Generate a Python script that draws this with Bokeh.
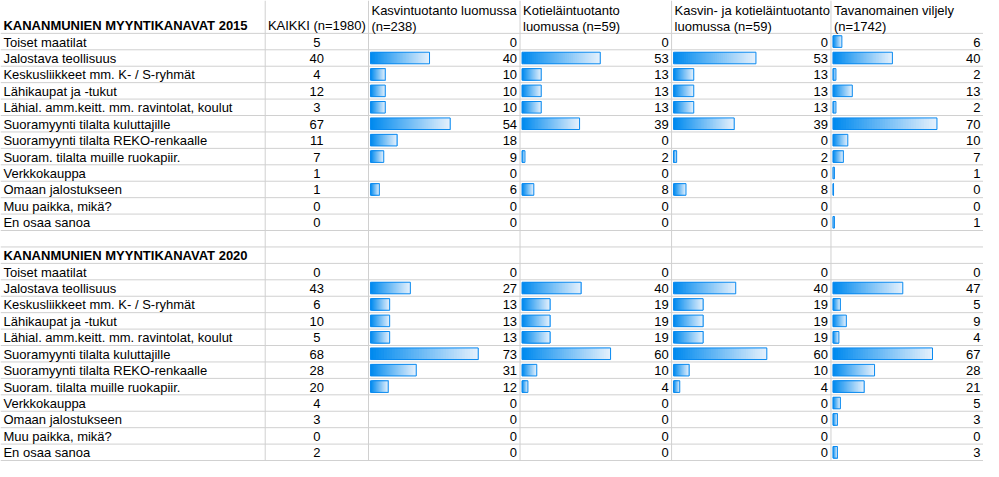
from bokeh.plotting import figure
from bokeh.models import ColumnDataSource, Range1d
from bokeh.core.properties import value
from bokeh.embed import file_html
from bokeh.resources import INLINE

# ---------------- data ----------------
categories = [
    "Toiset maatilat",
    "Jalostava teollisuus",
    "Keskusliikkeet mm. K- / S-ryhmät",
    "Lähikaupat ja -tukut",
    "Lähial. amm.keitt. mm. ravintolat, koulut",
    "Suoramyynti tilalta kuluttajille",
    "Suoramyynti tilalta REKO-renkaalle",
    "Suoram. tilalta muille ruokapiir.",
    "Verkkokauppa",
    "Omaan jalostukseen",
    "Muu paikka, mikä?",
    "En osaa sanoa",
]
title_2015 = "KANANMUNIEN MYYNTIKANAVAT 2015"
title_2020 = "KANANMUNIEN MYYNTIKANAVAT 2020"
column_headers = [
    ["KAIKKI (n=1980)"],
    ["Kasvintuotanto luomussa", "(n=238)"],
    ["Kotieläintuotanto", "luomussa (n=59)"],
    ["Kasvin- ja kotieläintuotanto", "luomussa (n=59)"],
    ["Tavanomainen viljely", "(n=1742)"],
]

kaikki_2015 = [5, 40, 4, 12, 3, 67, 11, 7, 1, 1, 0, 0]
kasvin_2015 = [0, 40, 10, 10, 10, 54, 18, 9, 0, 6, 0, 0]
kotiel_2015 = [0, 53, 13, 13, 13, 39, 0, 2, 0, 8, 0, 0]
kasvinkotiel_2015 = [0, 53, 13, 13, 13, 39, 0, 2, 0, 8, 0, 0]
tavanom_2015 = [6, 40, 2, 13, 2, 70, 10, 7, 1, 0.4, 0, 1]

kaikki_2020 = [0, 43, 6, 10, 5, 68, 28, 20, 4, 3, 0, 2]
kasvin_2020 = [0, 27, 13, 13, 13, 73, 31, 12, 0, 0, 0, 0]
kotiel_2020 = [0, 40, 19, 19, 19, 60, 10, 4, 0, 0, 0, 0]
kasvinkotiel_2020 = [0, 40, 19, 19, 19, 60, 10, 4, 0, 0, 0, 0]
tavanom_2020 = [0, 47, 5, 9, 4, 67, 28, 21, 5, 3, 0, 3]

# ---------------- layout ----------------
W, H = 999, 477
COL_EDGES = [0, 269, 374, 528, 682, 844, 999]
HEADER_H = 34
ROW_H = 17
FONT = value("Liberation Sans")
FS = "13px"
GRID = "#d0d0d0"
BAR_C0 = (0, 138, 239)
BAR_C1 = (228, 240, 252)
N_SLICES = 40

p = figure(width=983, height=461, output_backend="svg", toolbar_location=None,
           x_range=Range1d(0, W), y_range=Range1d(H, 0),
           min_border=0, outline_line_color=None)
p.axis.visible = False
p.grid.visible = False
p.background_fill_color = "white"
p.border_fill_color = "white"

n = len(categories)
sec1_top = HEADER_H
blank_top = sec1_top + n * ROW_H
sec2_head_top = blank_top + ROW_H
sec2_top = sec2_head_top + ROW_H

# grid lines
hy = [sec1_top + k * ROW_H for k in range(2 * n + 3)]
p.segment(x0=[0] * len(hy), x1=[W] * len(hy), y0=hy, y1=hy, line_color=GRID, line_width=1)
vx = COL_EDGES[1:-1]
p.segment(x0=vx, x1=vx, y0=[0] * len(vx), y1=[H] * len(vx), line_color=GRID, line_width=1)

def hexc(t):
    return "#%02x%02x%02x" % tuple(int(round(c)) for c in t)

slice_colors = [hexc(tuple(BAR_C0[i] + (BAR_C1[i] - BAR_C0[i]) * k / (N_SLICES - 1) for i in range(3)))
                for k in range(N_SLICES)]

sl = dict(left=[], right=[], top=[], bottom=[], color=[])
br = dict(left=[], right=[], top=[], bottom=[])
tx = dict(x=[], y=[], text=[])
tr = dict(x=[], y=[], text=[])
tc = dict(x=[], y=[], text=[])

def add_section(top, series):
    for r, cat in enumerate(categories):
        rt = top + r * ROW_H
        tx["x"].append(3); tx["y"].append(rt + ROW_H / 2 + 0.5); tx["text"].append(cat)
    for ci, vals in enumerate(series):
        c_l, c_r = COL_EDGES[ci + 1], COL_EDGES[ci + 2]
        for r, v in enumerate(vals):
            rt = top + r * ROW_H
            yc = rt + ROW_H / 2 + 0.5
            if ci == 0:
                tc["x"].append((c_l + c_r) / 2); tc["y"].append(yc); tc["text"].append(str(int(round(v))))
                continue
            tr["x"].append(c_r - 3); tr["y"].append(yc); tr["text"].append(str(int(round(v))))
            if v > 0:
                scale = (c_r - c_l - 4) / 100.0
                x0 = c_l + 2
                L = v * scale
                for k in range(N_SLICES):
                    # each slice runs to the bar end; later (lighter) slices cover earlier ones
                    sl["left"].append(x0 + L * k / N_SLICES)
                    sl["right"].append(x0 + L)
                    sl["top"].append(rt + 2.5)
                    sl["bottom"].append(rt + 14.5)
                    sl["color"].append(slice_colors[k])
                br["left"].append(x0); br["right"].append(x0 + L)
                br["top"].append(rt + 2.5); br["bottom"].append(rt + 14.5)

add_section(sec1_top, [kaikki_2015, kasvin_2015, kotiel_2015, kasvinkotiel_2015, tavanom_2015])
add_section(sec2_top, [kaikki_2020, kasvin_2020, kotiel_2020, kasvinkotiel_2020, tavanom_2020])

p.quad(left="left", right="right", top="top", bottom="bottom", fill_color="color",
       line_color=None, source=ColumnDataSource(sl))
p.quad(left="left", right="right", top="top", bottom="bottom", fill_color=None,
       line_color="#0a8af0", line_width=1, source=ColumnDataSource(br))

p.text(x="x", y="y", text="text", source=ColumnDataSource(tx), text_font=FONT,
       text_font_size=FS, text_color="black", text_align="left", text_baseline="middle")
p.text(x="x", y="y", text="text", source=ColumnDataSource(tr), text_font=FONT,
       text_font_size=FS, text_color="black", text_align="right", text_baseline="middle")
p.text(x="x", y="y", text="text", source=ColumnDataSource(tc), text_font=FONT,
       text_font_size=FS, text_color="black", text_align="center", text_baseline="middle")

# headers
p.text(x=[3, 3], y=[HEADER_H - 8, sec2_head_top + ROW_H / 2 + 0.5], text=[title_2015, title_2020],
       text_font=FONT, text_font_size=FS, text_font_style="bold", text_color="black",
       text_align="left", text_baseline="middle")
hx, hyy, ht, ha = [], [], [], []
for ci, lines in enumerate(column_headers):
    c_l, c_r = COL_EDGES[ci + 1], COL_EDGES[ci + 2]
    if ci == 0:
        hx.append((c_l + c_r) / 2); hyy.append(HEADER_H - 8); ht.append(lines[0]); ha.append("center")
    else:
        for li, line in enumerate(lines):
            hx.append(c_l + 3); hyy.append(10 + 16.5 * li); ht.append(line); ha.append("left")
p.text(x=hx, y=hyy, text=ht, text_align=ha, text_font=FONT, text_font_size=FS,
       text_color="black", text_baseline="middle")

open("out.html", "w").write(file_html(p, INLINE))
